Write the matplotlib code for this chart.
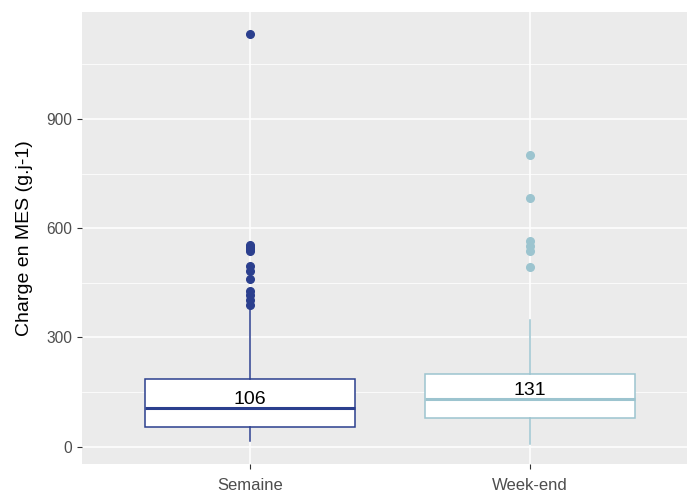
import numpy as np
import matplotlib
matplotlib.use("Agg")
import matplotlib.pyplot as plt
from matplotlib.ticker import MultipleLocator

plt.rcParams['font.family'] = ['Liberation Sans', 'DejaVu Sans']

groups = ['Semaine', 'Week-end']
colors = ['#2B3F8E', '#9CC4CF']

# box stats
q1 = [53, 78]
med = [106, 131]
q3 = [186, 199]
whislo = [15, 7]
whishi = [375, 348]
fliers = [
    [1133, 555, 549, 543, 537, 496, 482, 462, 428, 416, 404, 390],
    [801, 684, 565, 550, 537, 494],
]
med_labels = ['106', '131']

fig = plt.figure(figsize=(6.87, 4.93), dpi=100)
ax = fig.add_axes([82 / 687, (493 - 464) / 493, 1 - 82 / 687, (464 - 12) / 493])
ax.set_facecolor('#EBEBEB')

for i in range(len(groups)):
    st = [dict(med=med[i], q1=q1[i], q3=q3[i], whislo=whislo[i], whishi=whishi[i],
               fliers=fliers[i])]
    c = colors[i]
    ax.bxp(st, positions=[i + 1], widths=0.75, patch_artist=True, showcaps=False,
           boxprops=dict(facecolor='white', edgecolor=c, linewidth=1.1),
           medianprops=dict(color=c, linewidth=2.2),
           whiskerprops=dict(color=c, linewidth=1.1),
           flierprops=dict(marker='o', markerfacecolor=c, markeredgecolor=c, markersize=5.5),
           zorder=3)
    ax.annotate(med_labels[i], (i + 1, med[i]), xytext=(0, 3.2), textcoords='offset points',
                ha='center', va='baseline', fontsize=14, color='black', zorder=4)

ax.set_xlim(0.4, 2.6 - 11 / 280)
ax.set_ylim(-47.5, 1194)
ax.set_xticks([1, 2])
ax.set_xticklabels(groups)
ax.yaxis.set_major_locator(MultipleLocator(300))
ax.yaxis.set_minor_locator(MultipleLocator(150))
ax.grid(which='major', color='white', linewidth=1.1, zorder=0)
ax.grid(which='minor', axis='y', color='white', linewidth=0.55, zorder=0)
ax.set_axisbelow(True)
for s in ax.spines.values():
    s.set_visible(False)
ax.tick_params(which='major', length=3.3, width=0.8, color='#333333', labelcolor='#4D4D4D')
ax.tick_params(axis='y', which='major', labelsize=11.2, pad=4)
ax.tick_params(axis='x', which='major', labelsize=12, pad=7)
ax.tick_params(which='minor', length=0)
ax.set_ylabel('Charge en MES (g.j-1)', fontsize=14, color='black', labelpad=9)

fig.savefig('out.png', dpi=100)
